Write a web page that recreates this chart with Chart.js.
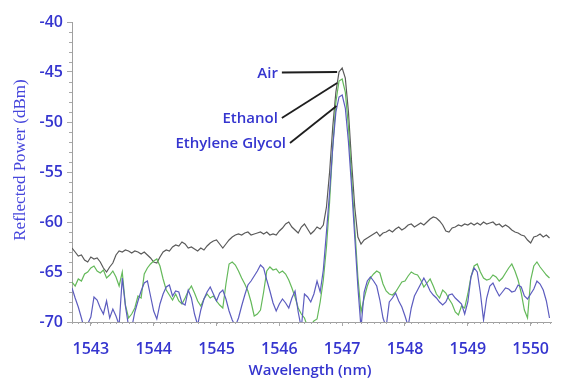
<!DOCTYPE html>
<html>
<head>
<meta charset="utf-8">
<script src="https://cdn.jsdelivr.net/npm/chart.js@4.4.0/dist/chart.umd.min.js"></script>
<style>
  html, body { margin: 0; padding: 0; background: #ffffff; }
  #wrap { width: 563px; height: 381px; position: relative; }
</style>
</head>
<body>
<div id="wrap"><canvas id="c" width="563" height="381"></canvas></div>
<script>
// Reflection spectra of the grating in three surrounding media, sampled every 0.05 nm
const waveStart = 1542.70;
const waveStep = 0.05;

const seriesNames = ['Air', 'Ethanol', 'Ethylene Glycol'];

const air = [
  -62.6, -63.0, -63.4, -63.3, -63.8, -64.0, -63.5, -63.7, -63.6, -64.0,
  -64.6, -65.0, -64.5, -64.1, -63.3, -62.9, -63.0, -62.8, -62.9, -63.1,
  -62.9, -63.0, -63.2, -63.0, -63.3, -63.6, -64.0, -64.1, -63.5, -63.0,
  -62.8, -62.9, -62.5, -62.3, -62.4, -62.0, -62.2, -62.6, -62.5, -62.7,
  -62.9, -62.6, -62.8, -62.4, -62.1, -61.9, -61.8, -62.2, -62.6, -62.2,
  -61.8, -61.5, -61.3, -61.2, -61.3, -61.1, -61.0, -61.3, -61.2, -61.1,
  -61.0, -61.2, -61.0, -61.3, -61.2, -61.3, -60.9, -60.6, -60.2, -60.0,
  -60.5, -60.8, -61.1, -60.5, -60.2, -60.7, -61.2, -60.9, -60.5, -60.7,
  -60.3, -58.5, -55.0, -50.5, -47.0, -45.0, -44.6, -45.6, -49.0, -54.0,
  -58.5, -61.5, -62.2, -61.8, -61.6, -61.4, -61.2, -61.0, -61.4, -61.1,
  -61.0, -60.8, -61.0, -60.7, -60.5, -60.8, -60.6, -60.3, -60.2, -60.5,
  -60.3, -60.1, -60.3, -60.0, -59.7, -59.5, -59.6, -59.9, -60.3, -60.9,
  -61.0, -60.6, -60.5, -60.3, -60.4, -60.2, -60.3, -60.1, -60.3, -60.1,
  -60.3, -60.0, -60.2, -60.1, -60.0, -60.3, -60.2, -60.5, -60.3, -60.5,
  -60.8, -61.0, -61.1, -61.3, -61.4, -61.8, -62.1, -61.5, -61.4, -61.2,
  -61.5, -61.3, -61.6
];

const ethanol = [
  -66.0, -66.4, -65.7, -65.9, -65.2, -65.0, -64.6, -64.4, -64.9, -65.1,
  -64.8, -65.6, -65.3, -64.9, -65.5, -66.4, -65.0, -68.3, -69.6, -69.2,
  -68.6, -67.4, -67.6, -65.2, -64.6, -64.2, -63.9, -63.7, -64.4, -65.7,
  -66.8, -67.3, -67.8, -67.2, -67.9, -68.2, -67.6, -66.9, -66.4, -67.1,
  -67.9, -68.4, -67.7, -67.2, -67.6, -67.4, -67.9, -68.3, -68.6, -66.2,
  -64.2, -64.0, -64.3, -64.9, -65.6, -66.2, -66.9, -68.0, -69.4, -69.2,
  -68.8, -67.0, -64.9, -64.5, -64.8, -64.7, -65.1, -64.9, -65.2, -65.8,
  -66.6, -67.5, -68.6, -69.2, -69.6, -70.5, -70.3, -69.9, -69.7, -68.0,
  -65.8, -62.5, -58.0, -52.5, -48.0, -45.9, -45.7, -47.0, -50.5, -55.5,
  -60.5, -65.5, -69.0, -67.6, -66.4, -65.6, -65.2, -64.9, -65.1, -66.2,
  -66.9, -67.2, -67.3, -67.0, -66.5, -66.0, -65.9, -65.4, -65.0, -65.2,
  -65.3, -65.8, -66.5, -66.1, -65.7, -66.4, -67.2, -67.6, -66.8, -67.1,
  -67.7, -68.2, -69.0, -69.3, -68.4, -68.6, -67.2, -65.5, -64.4, -64.2,
  -65.0, -65.6, -65.8, -65.7, -65.3, -65.5, -65.9, -65.6, -65.1, -64.6,
  -64.2, -64.9, -65.8, -67.1, -68.8, -69.6, -65.8, -64.4, -64.0, -64.5,
  -64.9, -65.3, -65.6
];

const ethyleneGlycol = [
  -66.6, -67.6, -68.5, -69.6, -70.8, -70.2, -69.5, -67.5, -67.8, -68.6,
  -69.2, -67.9, -69.6, -68.7, -69.4, -70.3, -65.6, -68.4, -70.4, -70.6,
  -69.0, -67.9, -66.9, -66.1, -65.9, -67.4, -68.9, -69.7, -68.2, -67.2,
  -66.5, -66.3, -67.4, -66.9, -67.0, -68.1, -68.3, -66.8, -67.6, -69.2,
  -70.3, -68.8, -67.7, -67.0, -66.5, -67.2, -67.9, -67.1, -66.8, -67.7,
  -68.9, -69.8, -70.4, -69.6, -68.4, -67.3, -66.3, -65.9, -65.4, -64.9,
  -64.3, -64.6, -65.8, -66.9, -68.1, -68.9, -68.2, -67.7, -68.1, -68.6,
  -67.6, -66.9, -69.0, -70.6, -67.2, -67.5, -68.0, -67.2, -65.9, -67.0,
  -64.8, -61.0, -57.0, -52.5, -49.0, -47.5, -47.3, -48.6, -52.0, -56.5,
  -61.5, -66.5, -70.6, -67.0, -65.9, -65.5, -65.9, -66.4, -67.8, -69.6,
  -70.5, -68.0, -67.6, -67.1, -67.9, -68.5, -69.4, -70.4, -68.6, -67.4,
  -66.8, -66.2, -65.6, -66.2, -66.9, -67.3, -67.6, -68.0, -68.3, -68.0,
  -67.3, -67.2, -67.6, -67.9, -68.2, -69.2, -68.0, -65.5, -64.6, -65.0,
  -67.1, -69.8, -67.6, -66.4, -66.1, -66.8, -67.4, -67.0, -66.6, -66.7,
  -67.0, -66.9, -66.3, -66.5, -67.4, -67.7, -67.2, -66.7, -65.9, -66.2,
  -66.8, -67.9, -69.6
];

const wavelengthTicks = [1543, 1544, 1545, 1546, 1547, 1548, 1549, 1550];
const powerTicks = [-70, -65, -60, -55, -50, -45, -40];

// wavelength grid shared by the three traces
const wavelengths = air.map((_, i) => +(waveStart + i * waveStep).toFixed(2));
const toPoints = vals => vals.map((v, i) => ({ x: wavelengths[i], y: v }));

const BLUE_TEXT = '#3535cf';

// callouts: leader line from label to the top of each resonance peak
const callouts = [
  { name: 'Air',             from: [1546.04, -45.05], to: [1546.92, -45.0] },
  { name: 'Ethanol',         from: [1546.04, -49.6],  to: [1546.92, -46.1] },
  { name: 'Ethylene Glycol', from: [1546.17, -52.1],  to: [1546.91, -48.4] }
];

const decorations = {
  id: 'decorations',
  afterDraw(chart) {
    const { ctx, scales: { x, y }, chartArea } = chart;
    ctx.save();

    // minor ticks on both axes
    ctx.strokeStyle = '#a8a8a8';
    ctx.lineWidth = 1;
    ctx.beginPath();
    for (let v = -70; v <= -40; v += 1) {
      if (v % 5 === 0) continue;
      const py = Math.round(y.getPixelForValue(v)) + 0.5;
      ctx.moveTo(chartArea.left - 3, py);
      ctx.lineTo(chartArea.left, py);
    }
    for (let k = 0; k <= 80; k++) {
      const v = 1542.7 + k * 0.1;
      if (v > x.max) break;
      const px = Math.round(x.getPixelForValue(v)) + 0.5;
      ctx.moveTo(px, chartArea.bottom);
      ctx.lineTo(px, chartArea.bottom + 2);
    }
    ctx.stroke();

    // axis titles
    ctx.fillStyle = '#4646dc';
    ctx.font = '17px "Liberation Serif", "Times New Roman", serif';
    ctx.textAlign = 'center';
    ctx.textBaseline = 'middle';
    ctx.translate(21, 160);
    ctx.rotate(-Math.PI / 2);
    ctx.fillText('Reflected Power (dBm)', 0, 0);
    ctx.setTransform(1, 0, 0, 1, 0, 0);

    ctx.fillStyle = BLUE_TEXT;
    ctx.font = '600 15px "Open Sans", sans-serif';
    ctx.fillText('Wavelength (nm)', 310, 371);

    // callouts
    ctx.strokeStyle = '#1e1e1e';
    ctx.lineWidth = 1.8;
    ctx.textAlign = 'right';
    ctx.font = '600 15px "Open Sans", sans-serif';
    callouts.forEach(c => {
      const x0 = x.getPixelForValue(c.from[0]);
      const y0 = y.getPixelForValue(c.from[1]);
      const x1 = x.getPixelForValue(c.to[0]);
      const y1 = y.getPixelForValue(c.to[1]);
      ctx.beginPath();
      ctx.moveTo(x0, y0);
      ctx.lineTo(x1, y1);
      ctx.stroke();
      ctx.fillStyle = BLUE_TEXT;
      ctx.fillText(c.name, x0 - 4, y0 + 1);
    });
    ctx.restore();
  }
};

const lineStyle = { borderWidth: 1.2, pointRadius: 0, tension: 0, fill: false };

new Chart(document.getElementById('c'), {
  type: 'line',
  data: {
    datasets: [
      { label: seriesNames[2], data: toPoints(ethyleneGlycol), borderColor: '#5c5cbf', ...lineStyle },
      { label: seriesNames[1], data: toPoints(ethanol), borderColor: '#64b95a', ...lineStyle },
      { label: seriesNames[0], data: toPoints(air), borderColor: '#5a5a5a', ...lineStyle }
    ]
  },
  options: {
    responsive: false,
    animation: false,
    layout: { padding: { top: 22, right: 1, left: 0, bottom: 0 } },
    plugins: { legend: { display: false }, tooltip: { enabled: false } },
    scales: {
      x: {
        type: 'linear',
        min: 1542.7,
        max: 1550.33,
        afterBuildTicks: s => { s.ticks = wavelengthTicks.map(v => ({ value: v })); },
        afterFit: s => { s.height = 59; },
        grid: { drawOnChartArea: false, tickLength: 4, color: '#a8a8a8' },
        border: { color: '#a0a0a0', width: 1 },
        ticks: {
          color: BLUE_TEXT,
          font: { family: 'Open Sans', size: 16, weight: '600' },
          padding: 14,
          maxRotation: 0,
          autoSkip: false,
          callback: v => String(v)
        }
      },
      y: {
        min: -70,
        max: -40,
        afterBuildTicks: s => { s.ticks = powerTicks.map(v => ({ value: v })); },
        afterFit: s => { s.width = 72; },
        grid: { drawOnChartArea: false, tickLength: 5, color: '#a8a8a8' },
        border: { color: '#a0a0a0', width: 1 },
        ticks: {
          color: BLUE_TEXT,
          font: { family: 'Open Sans', size: 16, weight: '600' },
          padding: 4,
          callback: v => String(v)
        }
      }
    }
  },
  plugins: [decorations]
});
</script>
</body>
</html>
